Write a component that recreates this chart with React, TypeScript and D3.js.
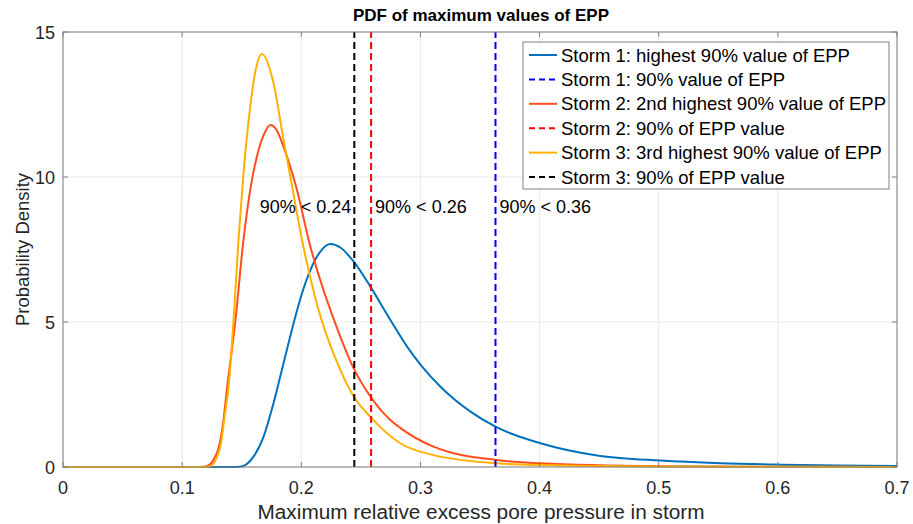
import React from "react";
import * as d3 from "d3";

const storm1X = [0, 0.14, 0.1487, 0.1599, 0.1683, 0.1767, 0.1851, 0.1935, 0.2006, 0.2076, 0.216, 0.2244, 0.2328, 0.244, 0.258, 0.2748, 0.2888, 0.3014, 0.3168, 0.342, 0.363, 0.4008, 0.451, 0.5017, 0.552, 0.6025, 0.65, 0.7];
const storm1Y = [0, 0, 0.01, 0.36, 1.04, 2.2, 3.58, 4.95, 5.99, 6.79, 7.43, 7.69, 7.57, 7.08, 6.22, 5.07, 4.15, 3.46, 2.77, 1.91, 1.39, 0.82, 0.38, 0.22, 0.13, 0.08, 0.05, 0.03];

const storm2X = [0, 0.11, 0.12, 0.129, 0.1347, 0.1375, 0.1445, 0.1515, 0.1571, 0.1627, 0.1685, 0.174, 0.1795, 0.1851, 0.1964, 0.2062, 0.2328, 0.244, 0.258, 0.2748, 0.283, 0.311, 0.364, 0.4, 0.5, 0.6, 0.7];
const storm2Y = [0, 0, 0.02, 0.47, 1.62, 2.66, 4.97, 7.83, 9.55, 10.7, 11.45, 11.79, 11.6, 11.04, 9.55, 7.83, 4.49, 3.4, 2.43, 1.62, 1.35, 0.7, 0.24, 0.13, 0.03, 0.01, 0.0];

const storm3X = [0, 0.11, 0.123, 0.132, 0.136, 0.139, 0.143, 0.1473, 0.1515, 0.1571, 0.162, 0.167, 0.1767, 0.1851, 0.1922, 0.2006, 0.213, 0.2328, 0.244, 0.258, 0.283, 0.311, 0.364, 0.4, 0.5, 0.7];
const storm3Y = [0, 0, 0.02, 0.7, 1.85, 2.77, 4.97, 7.83, 10.13, 12.4, 13.75, 14.24, 13.23, 11.28, 9.7, 7.83, 5.64, 3.34, 2.43, 1.73, 0.82, 0.41, 0.13, 0.07, 0.02, 0.0];

const thresholds = [0.363, 0.2586, 0.2445];
const thresholdLabels = ["90% < 0.36", "90% < 0.26", "90% < 0.24"];

const xTicks = [0, 0.1, 0.2, 0.3, 0.4, 0.5, 0.6, 0.7];
const yTicks = [0, 5, 10, 15];

const legendLabels = [
  "Storm 1: highest 90% value of EPP",
  "Storm 1: 90% value of EPP",
  "Storm 2: 2nd highest 90% value of EPP",
  "Storm 2: 90% of EPP value",
  "Storm 3: 3rd highest 90% value of EPP",
  "Storm 3: 90% of EPP value",
];

const curveColors = ["#0072BD", "#FF4E1A", "#FFB000"];
const dashColors = ["#0000FF", "#FF0000", "#000000"];

export default function App() {
  const W = 913, H = 524;
  const m = { l: 63, r: 16, t: 32, b: 57 };
  const x = d3.scaleLinear().domain([0, 0.7]).range([m.l, W - m.r]);
  const y = d3.scaleLinear().domain([0, 15]).range([H - m.b, m.t]);
  const line = d3.line<[number, number]>().x(d => x(d[0])).y(d => y(d[1])).curve(d3.curveMonotoneX);
  const series = [
    storm1X.map((v, i) => [v, storm1Y[i]] as [number, number]),
    storm2X.map((v, i) => [v, storm2Y[i]] as [number, number]),
    storm3X.map((v, i) => [v, storm3Y[i]] as [number, number]),
  ];
  const font = "'Liberation Sans', Arial, sans-serif";
  const x0 = x(0), x1 = x(0.7), y0 = y(0), y1 = y(15);
  const tl = 5;
  const legX = 523, legY = 42, legW = 366, legH = 147, rowH = 24.4;
  const legendItems = [
    { c: curveColors[0], dash: false },
    { c: dashColors[0], dash: true },
    { c: curveColors[1], dash: false },
    { c: dashColors[1], dash: true },
    { c: curveColors[2], dash: false },
    { c: dashColors[2], dash: true },
  ];
  return (
    <svg width={W} height={H} style={{ display: "block", position: "absolute", left: 0, top: 0 }} fontFamily={font}>
      <rect width={W} height={H} fill="#fff" />
      {xTicks.map(t => (
        <line key={"gx" + t} x1={x(t)} x2={x(t)} y1={y0} y2={y1} stroke="#e8e8e8" strokeWidth={1} />
      ))}
      {yTicks.map(t => (
        <line key={"gy" + t} x1={x0} x2={x1} y1={y(t)} y2={y(t)} stroke="#e8e8e8" strokeWidth={1} />
      ))}
      {series.map((s, i) => (
        <path key={"s" + i} d={line(s) || ""} fill="none" stroke={curveColors[i]} strokeWidth={2} />
      ))}
      {thresholds.map((t, i) => (
        <line key={"d" + i} x1={x(t)} x2={x(t)} y1={y0} y2={y1} stroke={dashColors[i]} strokeWidth={2} strokeDasharray="7,4" />
      ))}
      {thresholds.map((t, i) => (
        <text key={"tl" + i} x={x(t) + (i === 2 ? -3 : 4)} y={213} textAnchor={i === 2 ? "end" : "start"} fontSize={18} fill="#000">{thresholdLabels[i]}</text>
      ))}
      <rect x={x0} y={y1} width={x1 - x0} height={y0 - y1} fill="none" stroke="#808080" strokeWidth={1} />
      {xTicks.map(t => (
        <g key={"tx" + t}>
          <line x1={x(t)} x2={x(t)} y1={y0} y2={y0 - tl} stroke="#808080" />
          <line x1={x(t)} x2={x(t)} y1={y1} y2={y1 + tl} stroke="#808080" />
          <text x={x(t)} y={y0 + 27} textAnchor="middle" fontSize={18} fill="#262626">{String(t)}</text>
        </g>
      ))}
      {yTicks.map(t => (
        <g key={"ty" + t}>
          <line x1={x0} x2={x0 + tl} y1={y(t)} y2={y(t)} stroke="#808080" />
          <line x1={x1} x2={x1 - tl} y1={y(t)} y2={y(t)} stroke="#808080" />
          <text x={x0 - 8} y={y(t) + 6.5} textAnchor="end" fontSize={18} fill="#262626">{String(t)}</text>
        </g>
      ))}
      <text x={481} y={21} textAnchor="middle" fontSize={17} fontWeight="bold" fill="#000">PDF of maximum values of EPP</text>
      <text x={481} y={519} textAnchor="middle" fontSize={20} textLength={447} lengthAdjust="spacingAndGlyphs" fill="#262626">Maximum relative excess pore pressure in storm</text>
      <text transform={`translate(29, ${(y0 + y1) / 2}) rotate(-90)`} textAnchor="middle" fontSize={18.5} fill="#262626">Probability Density</text>
      <rect x={legX} y={legY} width={legW} height={legH} fill="#fff" stroke="#808080" strokeWidth={1} />
      {legendLabels.map((lab, i) => {
        const cy = legY + 13 + i * rowH;
        const it = legendItems[i];
        return (
          <g key={"lg" + i}>
            <line x1={legX + 6} x2={legX + 34} y1={cy} y2={cy} stroke={it.c} strokeWidth={2} strokeDasharray={it.dash ? "6,4" : undefined} />
            <text x={legX + 38} y={cy + 6.5} fontSize={18.5} fill="#000">{lab}</text>
          </g>
        );
      })}
    </svg>
  );
}
